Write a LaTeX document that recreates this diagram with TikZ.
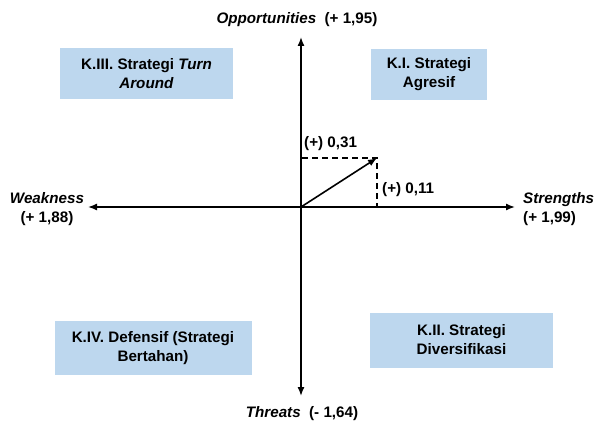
\documentclass[tikz,border=0pt]{standalone}
\usepackage{fontspec}
\setmainfont{Liberation Sans}
\usetikzlibrary{arrows.meta}
\definecolor{quadfill}{HTML}{BDD7EE}
\begin{document}
\begin{tikzpicture}[x=1pt,y=-1pt,
  every node/.style={font=\bfseries\fontsize{15.2}{19}\selectfont, inner sep=0pt},
  quad/.style={fill=quadfill, align=center},
  axis/.style={line width=1.4pt, -{Latex[length=9pt,width=7pt]}},
  guide/.style={line width=1.4pt, dashed, dash pattern=on 6pt off 4pt},
  vec/.style={line width=1.6pt, -{Latex[length=9pt,width=7pt]}}]
\useasboundingbox (0,0) rectangle (595,428);
% axes
\coordinate (O) at (301,207);
\coordinate (N) at (301,37);
\coordinate (S) at (301,396);
\coordinate (W) at (88,207);
\coordinate (E) at (515,207);
\draw[axis] (O) -- (N);
\draw[axis] (O) -- (S);
\draw[axis] (O) -- (W);
\draw[axis] (O) -- (E);
% axis labels
\node (opp) at (297,20) {\textit{Opportunities}~ (+ 1,95)};
\node (thr) at (302,414) {\textit{Threats}~ (- 1,64)};
\node[align=center] (wk) at (47,209) {\textit{Weakness}\\(+ 1,88)};
\node[align=left, anchor=west] (st) at (523,209) {\textit{Strengths}\\(+ 1,99)};
% quadrant boxes
\node[quad, minimum width=173pt, minimum height=51pt] (k3) at (146.5,74) {K.III. Strategi \textit{Turn}\\\textit{Around}};
\node[quad, minimum width=116pt, minimum height=51pt] (k1) at (429,74.5) {K.I. Strategi\\Agresif};
\node[quad, minimum width=197pt, minimum height=54pt] (k4) at (153,348) {K.IV. Defensif (Strategi\\Bertahan)};
\node[quad, minimum width=183pt, minimum height=55pt] (k2) at (461.5,340) {K.II. Strategi\\Diversifikasi};
% resultant vector with its components
\coordinate (P) at (377,158);
\coordinate (Px) at (377,207);
\coordinate (Py) at (301,158);
\draw[guide] (O) -- (Py) -- (P) -- (Px) -- (O);
\draw[vec] (O) -- (P);
\node[anchor=south west] (ly) at (304,151) {(+) 0,31};
\node[anchor=west] (lx) at (382,190) {(+) 0,11};
\end{tikzpicture}
\end{document}
